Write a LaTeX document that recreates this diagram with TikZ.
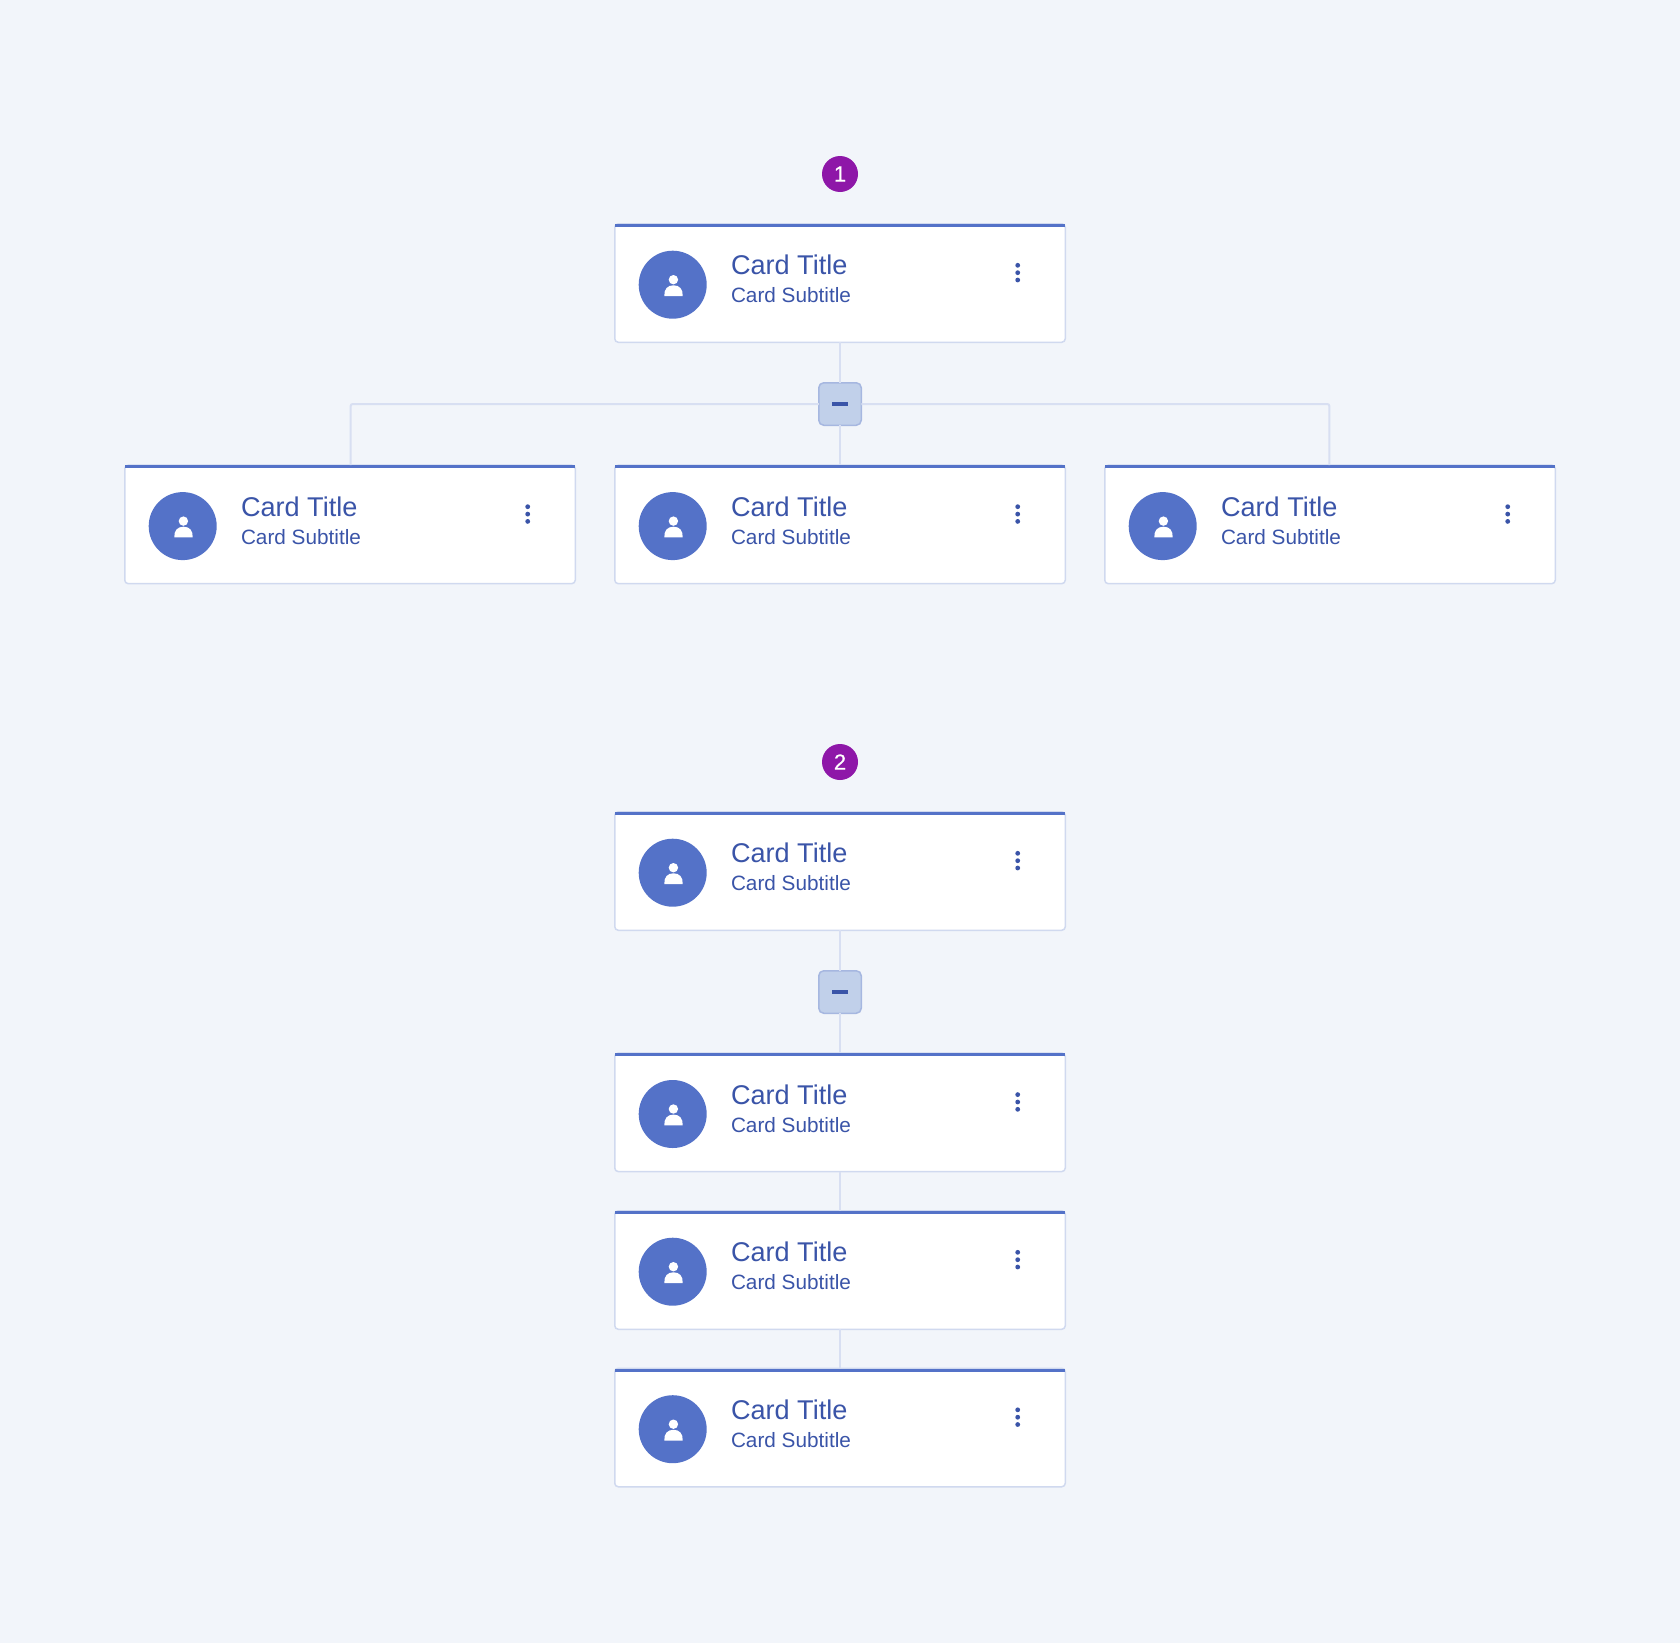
\documentclass[tikz,border=0pt]{standalone}
\usepackage{fontspec}
\setmainfont{Liberation Sans}
\definecolor{pagebg}{HTML}{F2F5FA}
\definecolor{cardline}{HTML}{D0D9EF}
\definecolor{linkline}{HTML}{D8DFF2}
\definecolor{cardblue}{HTML}{5472C8}
\definecolor{textblue}{HTML}{3A54A8}
\definecolor{badgepurple}{HTML}{8E17A8}
\definecolor{togglefill}{HTML}{C1D0EA}
\definecolor{toggleline}{HTML}{A6B7E0}
\tikzset{
    card/.style = {draw = cardline, fill = white, line width = 1.5, rounded corners = 3.5, minimum width = 450.5, minimum height = 118.5, inner sep = 0, outer sep = 0},
    avatar/.style = {circle, fill = cardblue, minimum size = 68, inner sep = 0},
    badge/.style = {circle, fill = badgepurple, text = white, minimum size = 36, inner sep = 0, font = \fontsize{22}{22}\selectfont\addfontfeature{FakeBold=0.5}},
    toggle/.style = {draw = toggleline, fill = togglefill, line width = 1.5, rounded corners = 5, minimum size = 42.5, inner sep = 0, outer sep = 0},
    cardtitle/.style = {anchor = base west, inner sep = 0, text = textblue, font = \fontsize{27.1}{27.1}\selectfont},
    cardsub/.style = {anchor = base west, inner sep = 0, text = textblue, font = \fontsize{20.75}{20.75}\selectfont},
    link/.style = {draw = linkline, line width = 2, rounded corners = 2}
}
\newcommand{\cardnode}[3]{
    \begin{scope}[shift = {(#2,#3)}]
        \node[card] (#1) at (226,60) {};
        \fill[cardblue] (1.3,1) rectangle (450.7,4);
        \node[avatar] (#1-pic) at (58.7,61.7) {};
        \fill[white] (59.4,56.7) circle (4.7);
        \fill[white] (50.3,73) .. controls (50,66) and (53.5,62.3) .. (59.5,62.3) .. controls (65.5,62.3) and (69,66) .. (68.7,73) -- cycle;
        \node[cardtitle] (#1-title) at (116.8,51.7) {Card Title};
        \node[cardsub] (#1-sub) at (116.8,79.7) {Card Subtitle};
        \fill[textblue] (403.7,42.3) circle (2.4);
        \fill[textblue] (403.7,49.7) circle (2.4);
        \fill[textblue] (403.7,57) circle (2.4);
    \end{scope}
}
\newcommand{\togglenode}[2]{
    \node[toggle] (#1) at (840,#2) {};
    \fill[textblue] (832.3,#2-1.7) rectangle (847.7,#2+1.7);
}
\begin{document}
\begin{tikzpicture}[x = 1pt, y = -1pt]
                \useasboundingbox (0,0) rectangle (1680,1643);
                \fill[pagebg] (0,0) rectangle (1680,1643);
                \node[badge] (one) at (840,174) {1};
                \cardnode{top}{614}{223}
                \togglenode{fold}{404}
                \cardnode{left}{124}{464.4}
                \cardnode{mid}{614}{464.4}
                \cardnode{right}{1104}{464.4}
                \draw[link] (top) -- (fold);
                \draw[link] (fold) -- (mid);
                \draw[link] (fold) -| ([xshift = 0.7]left.north);
                \draw[link] (fold) -| ([xshift = -0.7]right.north);
                \node[badge] (two) at (840,762) {2};
                \cardnode{head}{614}{811}
                \togglenode{foldb}{992}
                \cardnode{first}{614}{1052.3}
                \cardnode{second}{614}{1210}
                \cardnode{third}{614}{1367.5}
                \draw[link] (head) -- (foldb);
                \draw[link] (foldb) -- (first);
                \draw[link] (first) -- (second);
                \draw[link] (second) -- (third);
            \end{tikzpicture}
\end{document}
